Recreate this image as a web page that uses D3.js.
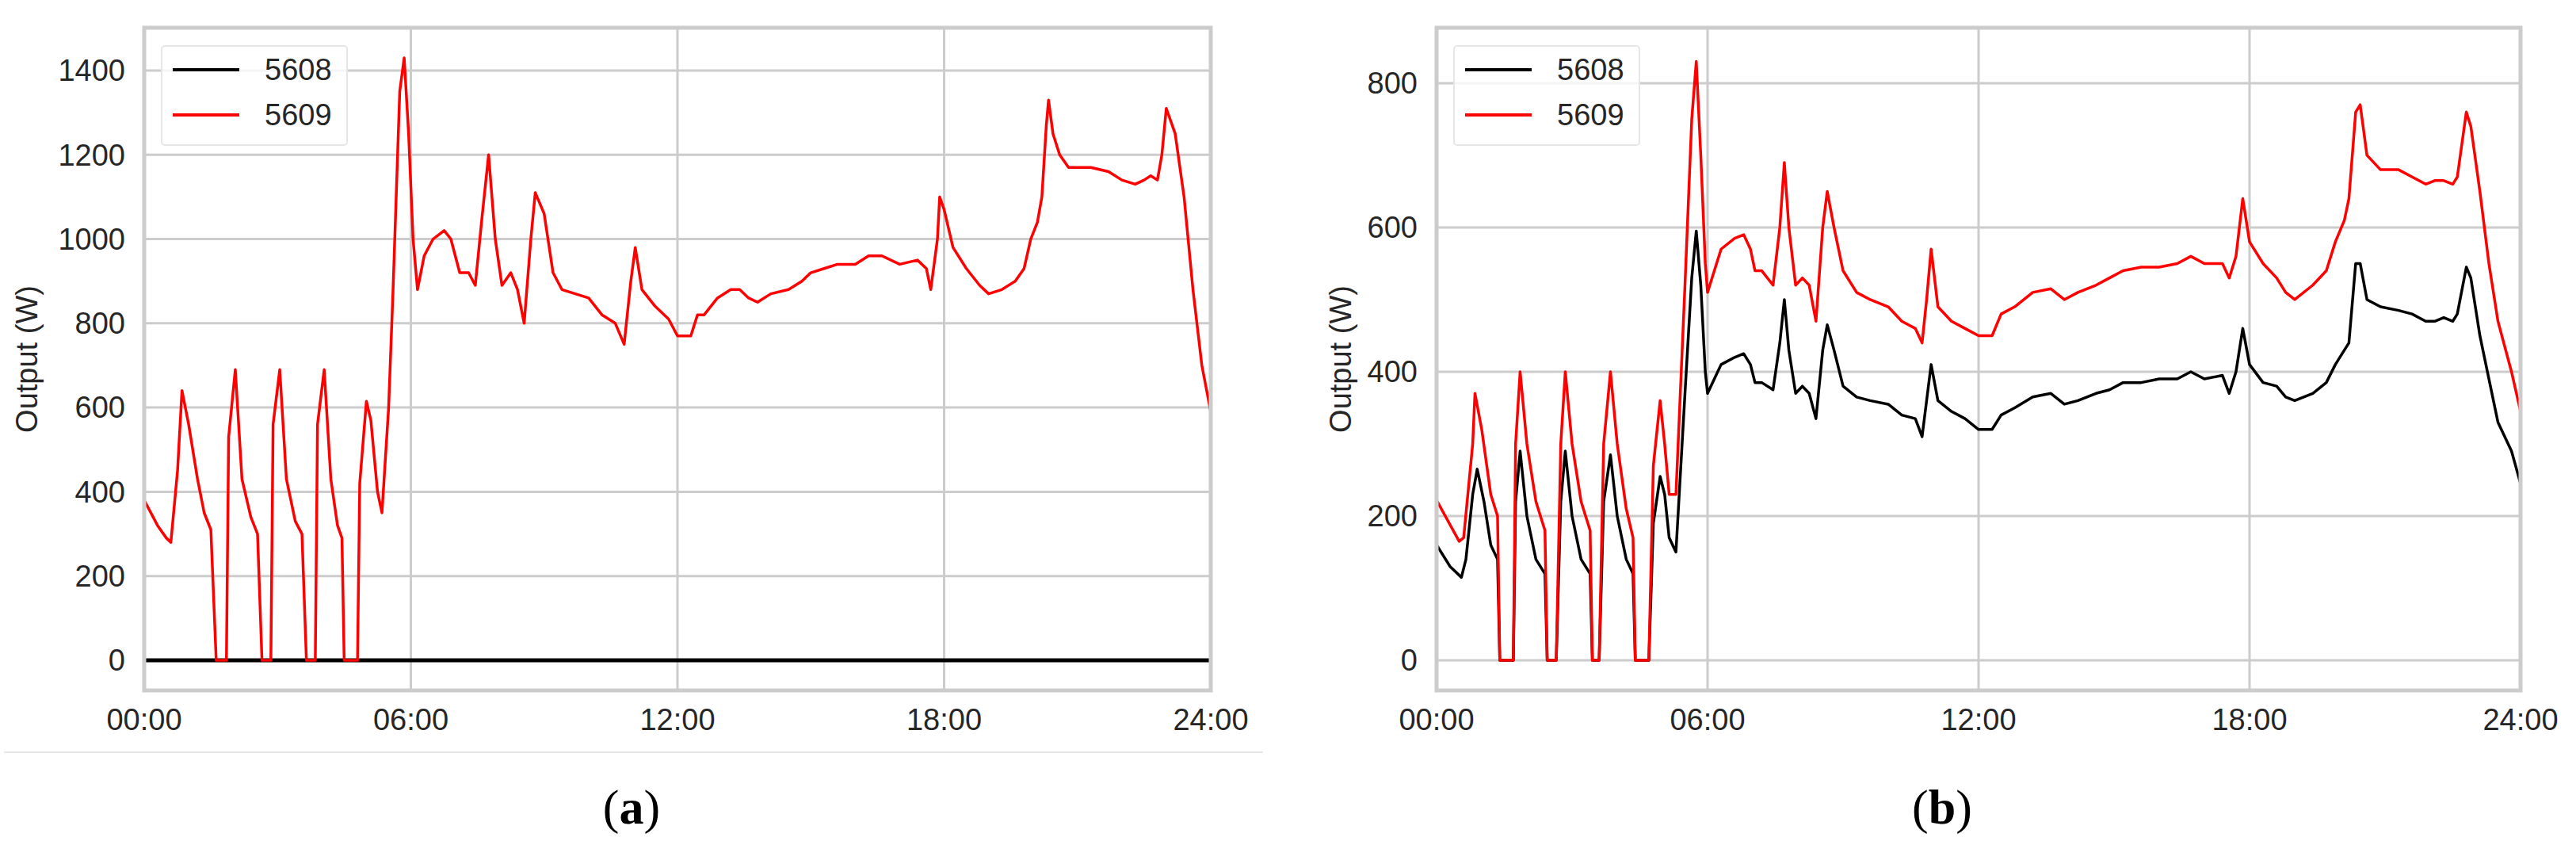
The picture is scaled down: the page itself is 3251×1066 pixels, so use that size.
<!DOCTYPE html>
<html>
<head>
<meta charset="utf-8">
<script src="https://cdn.jsdelivr.net/npm/d3@7"></script>
<style>
  body { margin: 0; background: #fff; }
  svg { display: block; font-family: "Liberation Sans", Arial, sans-serif; }
</style>
</head>
<body>
<svg id="chart" width="3251" height="1066"></svg>
<script>
// hours, watts
const timeTicks = [0, 6, 12, 18, 24]
const timeLabels = ['00:00', '06:00', '12:00', '18:00', '24:00']
const seriesNames = ['5608', '5609']

const a5608 = [[0, 0], [24, 0]]
const a5609 = [
  [0, 380], [0.3, 320], [0.5, 290], [0.6, 280], [0.75, 450], [0.85, 640], [1.0, 560], [1.2, 430], [1.35, 350], [1.5, 310],
  [1.62, 0], [1.85, 0], [1.9, 530], [2.05, 690], [2.2, 430], [2.4, 340], [2.55, 300], [2.65, 0], [2.85, 0],
  [2.9, 560], [3.05, 690], [3.2, 430], [3.4, 330], [3.55, 300], [3.65, 0], [3.85, 0], [3.9, 560], [4.05, 690],
  [4.2, 430], [4.35, 320], [4.45, 290], [4.5, 0], [4.8, 0], [4.85, 420], [5.0, 615], [5.1, 570], [5.25, 400],
  [5.35, 350], [5.5, 600], [5.6, 880], [5.75, 1350], [5.85, 1430], [5.95, 1250], [6.05, 1000], [6.15, 880],
  [6.3, 960], [6.5, 1000], [6.75, 1020], [6.9, 1000], [7.1, 920], [7.3, 920], [7.45, 890], [7.6, 1050], [7.75, 1200],
  [7.9, 1000], [8.05, 890], [8.25, 920], [8.4, 880], [8.55, 800], [8.7, 1000], [8.8, 1110], [9.0, 1060], [9.2, 920],
  [9.4, 880], [9.7, 870], [10.0, 860], [10.3, 820], [10.6, 800], [10.8, 750], [10.95, 900], [11.05, 980], [11.2, 880],
  [11.5, 840], [11.8, 810], [12.0, 770], [12.3, 770], [12.45, 820], [12.6, 820], [12.9, 860], [13.2, 880], [13.4, 880],
  [13.6, 860], [13.8, 850], [14.1, 870], [14.5, 880], [14.8, 900], [15.0, 920], [15.3, 930], [15.6, 940], [16.0, 940],
  [16.3, 960], [16.6, 960], [17.0, 940], [17.4, 950], [17.6, 930], [17.7, 880], [17.85, 1000], [17.9, 1100], [18.0, 1070],
  [18.2, 980], [18.5, 930], [18.8, 890], [19.0, 870], [19.3, 880], [19.6, 900], [19.8, 930], [19.95, 1000], [20.1, 1040],
  [20.2, 1100], [20.3, 1270], [20.35, 1330], [20.45, 1250], [20.6, 1200], [20.8, 1170], [21.3, 1170], [21.7, 1160],
  [22.0, 1140], [22.3, 1130], [22.5, 1140], [22.65, 1150], [22.8, 1140], [22.9, 1200], [23.0, 1310], [23.2, 1250],
  [23.4, 1100], [23.6, 880], [23.8, 700], [24.0, 590]
]

const b5608 = [
  [0, 160], [0.3, 130], [0.55, 115], [0.65, 140], [0.8, 230], [0.9, 265], [1.05, 220], [1.2, 160], [1.35, 140],
  [1.4, 0], [1.7, 0], [1.75, 220], [1.85, 290], [2.0, 200], [2.2, 140], [2.4, 120], [2.45, 0], [2.65, 0],
  [2.75, 220], [2.85, 290], [3.0, 200], [3.2, 140], [3.4, 120], [3.45, 0], [3.6, 0], [3.7, 220], [3.85, 285],
  [4.0, 200], [4.2, 140], [4.35, 120], [4.4, 0], [4.7, 0], [4.8, 190], [4.95, 255], [5.05, 230], [5.15, 170],
  [5.3, 150], [5.5, 370], [5.65, 530], [5.75, 595], [5.85, 520], [5.95, 400], [6.0, 370], [6.15, 390], [6.3, 410],
  [6.6, 420], [6.8, 425], [6.95, 410], [7.05, 385], [7.2, 385], [7.45, 375], [7.6, 440], [7.7, 500], [7.8, 430],
  [7.95, 370], [8.1, 380], [8.25, 370], [8.4, 335], [8.55, 430], [8.65, 465], [8.8, 430], [9.0, 380], [9.3, 365],
  [9.6, 360], [10.0, 355], [10.3, 340], [10.6, 335], [10.75, 310], [10.85, 360], [10.95, 410], [11.1, 360], [11.4, 345],
  [11.7, 335], [12.0, 320], [12.3, 320], [12.5, 340], [12.8, 350], [13.2, 365], [13.6, 370], [13.9, 355], [14.2, 360],
  [14.6, 370], [14.9, 375], [15.2, 385], [15.6, 385], [16.0, 390], [16.4, 390], [16.7, 400], [17.0, 390], [17.4, 395],
  [17.55, 370], [17.7, 400], [17.85, 460], [18.0, 410], [18.3, 385], [18.6, 380], [18.8, 365], [19.0, 360], [19.4, 370],
  [19.7, 385], [19.9, 410], [20.1, 430], [20.2, 440], [20.35, 550], [20.45, 550], [20.6, 500], [20.9, 490], [21.3, 485],
  [21.6, 480], [21.9, 470], [22.1, 470], [22.3, 475], [22.5, 470], [22.6, 480], [22.8, 545], [22.9, 530], [23.1, 450],
  [23.3, 390], [23.5, 330], [23.8, 290], [24.0, 245]
]
const b5609 = [
  [0, 222], [0.5, 165], [0.6, 170], [0.8, 300], [0.85, 370], [1.0, 320], [1.2, 230], [1.35, 200], [1.4, 0], [1.7, 0],
  [1.75, 300], [1.85, 400], [2.0, 300], [2.2, 220], [2.4, 180], [2.45, 0], [2.65, 0], [2.75, 300], [2.85, 400],
  [3.0, 300], [3.2, 220], [3.4, 180], [3.45, 0], [3.6, 0], [3.7, 300], [3.85, 400], [4.0, 300], [4.2, 210],
  [4.35, 170], [4.4, 0], [4.7, 0], [4.8, 270], [4.95, 360], [5.05, 300], [5.15, 230], [5.3, 230], [5.5, 520],
  [5.65, 750], [5.75, 830], [5.85, 700], [5.95, 550], [6.0, 510], [6.15, 540], [6.3, 570], [6.6, 585], [6.8, 590],
  [6.95, 570], [7.05, 540], [7.2, 540], [7.45, 520], [7.6, 600], [7.7, 690], [7.8, 600], [7.95, 520], [8.1, 530],
  [8.25, 520], [8.4, 470], [8.55, 600], [8.65, 650], [8.8, 600], [9.0, 540], [9.3, 510], [9.6, 500], [10.0, 490],
  [10.3, 470], [10.6, 460], [10.75, 440], [10.85, 500], [10.95, 570], [11.1, 490], [11.4, 470], [11.7, 460], [12.0, 450],
  [12.3, 450], [12.5, 480], [12.8, 490], [13.2, 510], [13.6, 515], [13.9, 500], [14.2, 510], [14.6, 520], [14.9, 530],
  [15.2, 540], [15.6, 545], [16.0, 545], [16.4, 550], [16.7, 560], [17.0, 550], [17.4, 550], [17.55, 530], [17.7, 560],
  [17.85, 640], [18.0, 580], [18.3, 550], [18.6, 530], [18.8, 510], [19.0, 500], [19.4, 520], [19.7, 540], [19.9, 580],
  [20.1, 610], [20.2, 640], [20.35, 760], [20.45, 770], [20.6, 700], [20.9, 680], [21.3, 680], [21.6, 670], [21.9, 660],
  [22.1, 665], [22.3, 665], [22.5, 660], [22.6, 670], [22.8, 760], [22.9, 740], [23.1, 650], [23.3, 550], [23.5, 470],
  [23.8, 400], [24.0, 345]
]

const yTicksA = [0, 200, 400, 600, 800, 1000, 1200, 1400]
const yTicksB = [0, 200, 400, 600, 800]
const colors = ['#000000', '#ff0000']

const panels = [
  { left: 182, right: 1528, ymin: -71.5, ymax: 1501.5, ticks: yTicksA, series: [a5608, a5609], widths: [5, 3.5],
    label: 'a', labelX: 797, ylabX: 34, sep: true },
  { left: 1813, right: 3181, ymin: -41.7, ymax: 876.8, ticks: yTicksB, series: [b5608, b5609], widths: [3.5, 3.5],
    label: 'b', labelX: 2451, ylabX: 1692, sep: false }
]
const plotTop = 35, plotBottom = 871

const svg = d3.select('#chart')

panels.forEach(p => {
  const x = d3.scaleLinear().domain([0, 24]).range([p.left, p.right])
  const y = d3.scaleLinear().domain([p.ymin, p.ymax]).range([plotBottom, plotTop])
  const g = svg.append('g')

  g.selectAll('.vg').data(timeTicks).join('line')
    .attr('x1', d => x(d)).attr('x2', d => x(d)).attr('y1', plotTop).attr('y2', plotBottom)
    .attr('stroke', '#cccccc').attr('stroke-width', 3)
  g.selectAll('.hg').data(p.ticks).join('line')
    .attr('x1', p.left).attr('x2', p.right).attr('y1', d => y(d)).attr('y2', d => y(d))
    .attr('stroke', '#cccccc').attr('stroke-width', 3)

  const line = d3.line().x(d => x(d[0])).y(d => y(d[1]))
  p.series.forEach((s, i) => {
    g.append('path').datum(s).attr('d', line).attr('fill', 'none')
      .attr('stroke', colors[i]).attr('stroke-width', p.widths[i]).attr('stroke-linejoin', 'round')
  })

  g.append('rect').attr('x', p.left).attr('y', plotTop).attr('width', p.right - p.left).attr('height', plotBottom - plotTop)
    .attr('fill', 'none').attr('stroke', '#cccccc').attr('stroke-width', 5)

  g.selectAll('.yt').data(p.ticks).join('text')
    .attr('x', p.left - 24).attr('y', d => y(d)).attr('dy', '0.35em').attr('text-anchor', 'end')
    .attr('font-size', 38).attr('fill', '#262626').text(d => d)
  g.selectAll('.xt').data(timeTicks).join('text')
    .attr('x', d => x(d)).attr('y', 908).attr('dy', '0.35em').attr('text-anchor', 'middle')
    .attr('font-size', 38).attr('fill', '#262626').text((d, i) => timeLabels[i])

  g.append('text').attr('transform', `translate(${p.ylabX},${(plotTop + plotBottom) / 2}) rotate(-90)`)
    .attr('text-anchor', 'middle').attr('dy', '0.35em').attr('font-size', 38).attr('fill', '#262626')
    .text('Output (W)')

  // legend
  const lg = g.append('g').attr('transform', `translate(${p.left + 22},58)`)
  lg.append('rect').attr('width', 234).attr('height', 125).attr('rx', 4)
    .attr('fill', '#fff').attr('fill-opacity', 0.8).attr('stroke', '#e6e6e6').attr('stroke-width', 2)
  seriesNames.forEach((n, i) => {
    lg.append('line').attr('x1', 14).attr('x2', 98).attr('y1', 30 + i * 57).attr('y2', 30 + i * 57)
      .attr('stroke', colors[i]).attr('stroke-width', 4)
    lg.append('text').attr('x', 130).attr('y', 30 + i * 57).attr('dy', '0.35em')
      .attr('font-size', 38).attr('fill', '#262626').text(n)
  })

  const cap = g.append('text').attr('x', p.labelX).attr('y', 1017).attr('dy', '0.35em')
    .attr('text-anchor', 'middle').attr('font-family', '"Liberation Serif", "Times New Roman", serif')
    .attr('font-size', 62).attr('fill', '#000')
  cap.append('tspan').text('(')
  cap.append('tspan').attr('font-weight', 'bold').text(p.label)
  cap.append('tspan').text(')')

  if (p.sep) {
    g.append('line').attr('x1', 5).attr('x2', 1594).attr('y1', 949).attr('y2', 949)
      .attr('stroke', '#e6e6e6').attr('stroke-width', 2)
  }
})
</script>
</body>
</html>
